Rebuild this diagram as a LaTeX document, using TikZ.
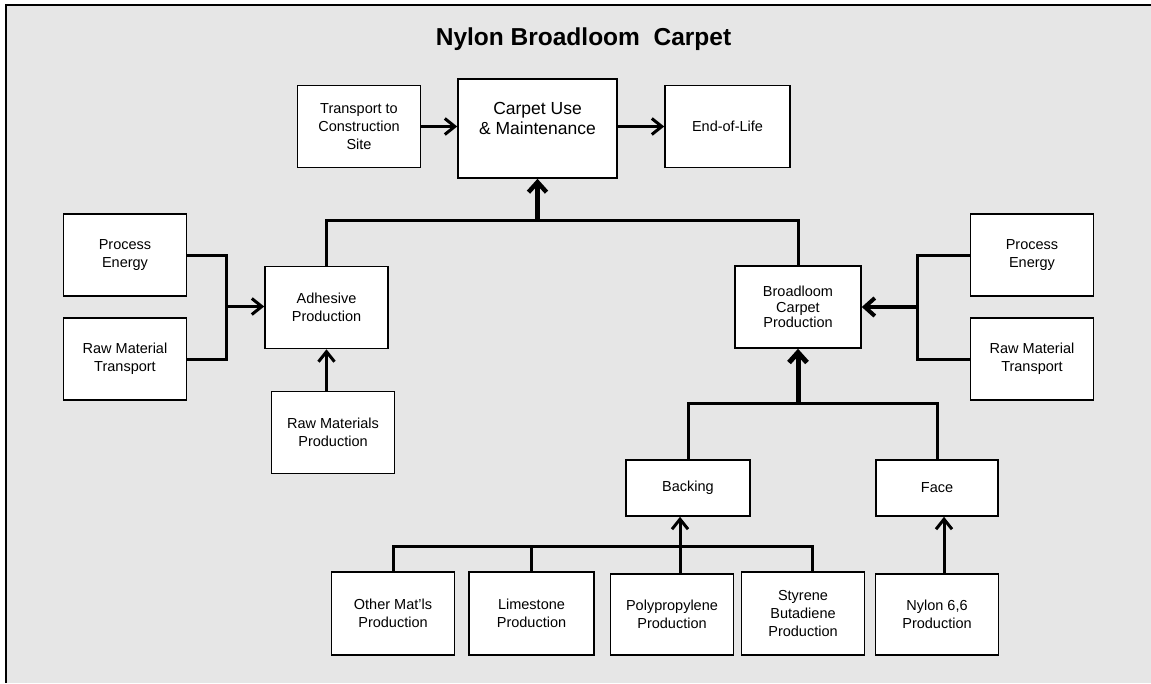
\documentclass[tikz,border=0pt]{standalone}
\usepackage{fontspec}
\setmainfont{Liberation Sans}
\usetikzlibrary{arrows.meta}
\definecolor{panelgray}{RGB}{230,230,230}

\begin{document}
\begin{tikzpicture}[x=1pt, y=-1pt,
  every node/.style={font=\fontsize{14.5}{18}\selectfont, align=center},
  box/.style={draw, fill=white, line width=1.6pt, inner sep=0pt,
    minimum width=123pt, minimum height=82pt},
  link/.style={line width=3pt},
  feed/.style={line width=3pt, -{Straight Barb[length=10pt,width=16pt]}},
  mainfeed/.style={line width=4.5pt, -{Straight Barb[length=10pt,width=18pt]}}]
\useasboundingbox (0,0) rectangle (1151,683);
\fill[panelgray] (6,5) rectangle (1151,683);
\draw[line width=2pt] (1151,5) -- (6,5) -- (6,683);
\node (title) at (583.5,45) [anchor=base, font=\fontsize{24.5}{28}\selectfont\bfseries]
  {Nylon Broadloom\ \ Carpet};
\node[box] (trans) at (359,126.5) {Transport to\\Construction\\Site};
\node[box, minimum width=159pt, minimum height=99pt] (use) at (537.5,128.5) {};
\node[font=\fontsize{17.5}{20}\selectfont] (usetxt) at (537.5,118) {Carpet Use\\\& Maintenance};
\node[box, minimum width=125pt] (eol) at (727.5,126.5) {End-of-Life};
\node[box] (peL) at (125,255) {Process\\Energy};
\node[box] (rmtL) at (125,359) {Raw Material\\Transport};
\node[box] (adh) at (326.5,307.5) {Adhesive\\Production};
\node[box] (rmp) at (333,432.5) {Raw Materials\\Production};
\node[box, minimum width=126pt, font=\fontsize{14.5}{15.5}\selectfont] (broad) at (798,307)
  {Broadloom\\Carpet\\Production};
\node[box] (peR) at (1032,255) {Process\\Energy};
\node[box] (rmtR) at (1032,359) {Raw Material\\Transport};
\node[box, minimum width=124pt, minimum height=56pt] (back) at (688,488) {Backing};
\node[box, minimum width=122pt, minimum height=56pt] (face) at (937,488) {Face};
\node[box, minimum height=83pt] (oth) at (393,613.5) {Other Mat'ls\\Production};
\node[box, minimum width=125pt, minimum height=83pt] (lime) at (531.5,613.5) {Limestone\\Production};
\node[box, minimum height=81pt] (poly) at (672,614.5) {Polypropylene\\Production};
\node[box, minimum height=83pt] (styr) at (803,613.5) {Styrene\\Butadiene\\Production};
\node[box, minimum height=81pt] (nyl) at (937,614.5) {Nylon 6,6\\Production};
\coordinate (jL) at (226,306.5);
\coordinate (jR) at (917,307);
\coordinate (busTop) at (537.5,220);
\coordinate (busMid) at (798,403);
\coordinate (busLow) at (680,546);
\coordinate (sbDrop) at (812,572);
\coordinate (nylUp) at (944,574);
\draw[feed] (trans.east) -- (trans.east -| use.west);
\draw[feed] (use.east |- eol.west) -- (eol.west);
\draw[link] (peL.east) -| (jL) |- (rmtL.east);
\draw[feed] (jL) -- (jL -| adh.west);
\draw[feed] (adh.south |- rmp.north) -- (adh.south);
\draw[link] (adh.north) |- (busTop) -| (broad.north);
\draw[mainfeed] (busTop) -- (use.south);
\draw[link] (peR.west) -| (jR) |- (rmtR.west);
\draw[mainfeed, line width=4pt] (jR) -- (broad.east);
\draw[link] (back.north) |- (busMid) -| (face.north);
\draw[mainfeed, line width=5pt] (busMid) -- (broad.south);
\draw[link] (oth.north) |- (busLow) -| (sbDrop);
\draw[link] (lime.north) -- (lime.north |- busLow);
\draw[feed] (busLow |- poly.north) -- (busLow |- back.south);
\draw[feed] (nylUp) -- (nylUp |- face.south);
\end{tikzpicture}
\end{document}
